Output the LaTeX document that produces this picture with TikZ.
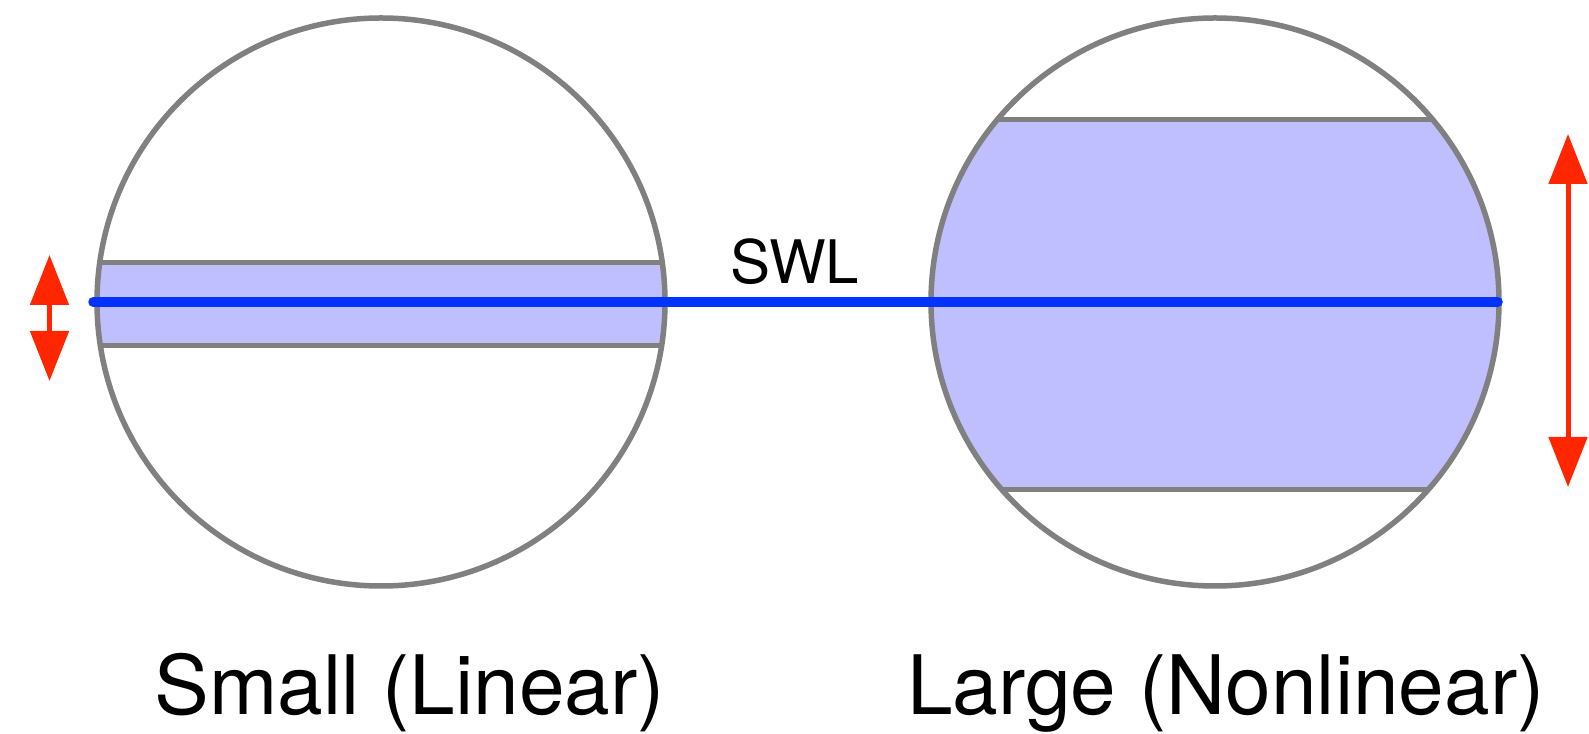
\documentclass[tikz,border=0pt]{standalone}
\usepackage{fontspec}
\setmainfont{TeX Gyre Heros}
\usetikzlibrary{arrows.meta}
\definecolor{rimgray}{HTML}{808080}
\definecolor{bandfill}{HTML}{BFBFFF}
\definecolor{swlblue}{HTML}{0033FF}
\definecolor{ampred}{HTML}{FF2600}
\tikzset{
  rim/.style={draw=rimgray, line width=5.5pt},
  chord/.style={draw=rimgray, line width=5.5pt},
  swl/.style={draw=swlblue, line width=10pt, line cap=round},
  amp/.style={draw=ampred, line width=5pt, {Triangle[length=50pt,width=38pt]}-{Triangle[length=50pt,width=38pt]}},
  biglabel/.style={font=\fontsize{82}{98}\selectfont, anchor=base, inner sep=0pt},
  swllabel/.style={font=\fontsize{60}{72}\selectfont, anchor=base, inner sep=0pt},
}
\begin{document}
\begin{tikzpicture}[x=1pt,y=1pt]
\useasboundingbox (0,0) rectangle (1589,733);
% left circle band
\begin{scope}
  \clip (381,431) circle (284);
  \fill[bandfill] (90,387.3) rectangle (680,470.7);
  \draw[chord] (90,387.3) -- (680,387.3);
  \draw[chord] (90,470.7) -- (680,470.7);
\end{scope}
% right circle band
\begin{scope}
  \clip (1215,431) circle (284);
  \fill[bandfill] (920,243.5) rectangle (1510,613.4);
  \draw[chord] (920,243.5) -- (1510,243.5);
  \draw[chord] (920,613.4) -- (1510,613.4);
\end{scope}
\node[rim, circle, minimum size=568pt, inner sep=0pt] (L) at (381,431) {};
\node[rim, circle, minimum size=568pt, inner sep=0pt] (R) at (1215,431) {};
\draw[swl, shorten <=-1pt, shorten >=4pt] (L.west) -- (R.east);
\node[swllabel] (swl) at (795,449) {SWL};
\coordinate (la) at (49.5,478);
\coordinate (lb) at (49.5,352);
\draw[amp] (la) -- (lb);
\coordinate (ra) at (1568,599);
\coordinate (rb) at (1568,246);
\draw[amp] (ra) -- (rb);
\node[biglabel] (small) at (410,19) {Small (Linear)};
\node[biglabel] (large) at (1226,19) {Large (Nonlinear)};
\end{tikzpicture}
\end{document}
